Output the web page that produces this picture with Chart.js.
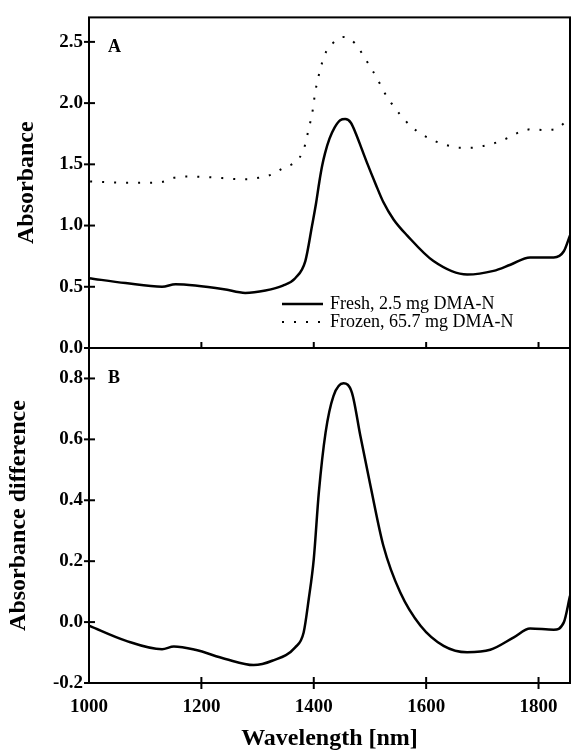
<!DOCTYPE html>
<html>
<head>
<meta charset="utf-8">
<script src="https://cdn.jsdelivr.net/npm/chart.js@4.4.1/dist/chart.umd.min.js"></script>
<style>
html, body { margin: 0; padding: 0; background: #fff; }
#wrap { position: relative; width: 571px; height: 751px; }
#chartA { position: absolute; left: 0; top: 0; }
#chartB { position: absolute; left: 0; top: 330px; }
</style>
</head>
<body>
<div id="wrap">
  <canvas id="chartA" width="571" height="366"></canvas>
  <canvas id="chartB" width="571" height="421"></canvas>
</div>
<script>
// 파장 (nm) / 흡광도 값 - 그림에서 읽음
const freshNm  = [1000, 1065, 1130, 1154, 1189, 1240, 1278, 1314, 1345, 1367, 1385, 1397, 1404, 1410, 1415, 1420, 1428, 1437, 1447, 1456, 1466, 1475, 1485, 1495, 1510, 1524, 1542, 1566, 1613, 1673, 1720, 1750, 1785, 1827, 1845, 1856];
const freshAbs = [0.57, 0.53, 0.50, 0.52, 0.51, 0.48, 0.45, 0.47, 0.51, 0.57, 0.71, 1.00, 1.18, 1.36, 1.49, 1.59, 1.71, 1.80, 1.86, 1.87, 1.84, 1.75, 1.63, 1.51, 1.34, 1.19, 1.05, 0.92, 0.71, 0.60, 0.63, 0.68, 0.74, 0.74, 0.79, 0.92];

const frozenNm  = [1002, 1064, 1107, 1129, 1151, 1172, 1216, 1259, 1281, 1302, 1324, 1346, 1367, 1382, 1392, 1397, 1403, 1413, 1419, 1434, 1454, 1473, 1488, 1500, 1513, 1524, 1538, 1553, 1573, 1594, 1616, 1637, 1659, 1680, 1702, 1723, 1745, 1766, 1788, 1809, 1830, 1851, 1856];
const frozenAbs = [1.36, 1.35, 1.35, 1.355, 1.39, 1.40, 1.395, 1.38, 1.378, 1.39, 1.415, 1.47, 1.52, 1.62, 1.81, 1.91, 2.10, 2.30, 2.39, 2.49, 2.54, 2.49, 2.39, 2.30, 2.20, 2.10, 2.00, 1.91, 1.81, 1.74, 1.69, 1.656, 1.635, 1.635, 1.65, 1.675, 1.715, 1.763, 1.787, 1.78, 1.787, 1.86, 1.88];

const diffNm  = [1000, 1065, 1130, 1151, 1189, 1243, 1293, 1326, 1367, 1382, 1391, 1400, 1409, 1421, 1435, 1453, 1468, 1483, 1501, 1524, 1554, 1590, 1631, 1673, 1714, 1756, 1785, 1827, 1845, 1856];
const diffAbs = [-0.012, -0.061, -0.089, -0.080, -0.091, -0.121, -0.141, -0.127, -0.083, -0.034, 0.075, 0.207, 0.425, 0.622, 0.742, 0.784, 0.753, 0.611, 0.447, 0.25, 0.097, -0.012, -0.078, -0.099, -0.091, -0.050, -0.021, -0.025, -0.001, 0.086];

const labelFresh  = 'Fresh, 2.5 mg DMA-N';
const labelFrozen = 'Frozen, 65.7 mg DMA-N';

const serif = "'Liberation Serif', 'Times New Roman', serif";
const tickFont  = { family: serif, size: 19, weight: 'bold' };
const titleFont = { family: serif, size: 24, weight: 'bold' };

function toPoints(xs, ys) {
    return xs.map((x, i) => ({ x: x, y: ys[i] }));
}

// 테두리 + 축을 가로지르는 눈금
const framePlugin = {
    id: 'frame',
    afterDraw(chart, args, opts) {
        const ctx = chart.ctx;
        const a = chart.chartArea;
        ctx.save();
        ctx.strokeStyle = '#000';
        ctx.lineWidth = 2;
        ctx.strokeRect(a.left, a.top, a.right - a.left, a.bottom - a.top);

        const ys = chart.scales.y;
        ys.ticks.forEach(t => {
            const py = ys.getPixelForValue(t.value);
            ctx.beginPath();
            ctx.moveTo(a.left - 5, py);
            ctx.lineTo(a.left + 6, py);
            ctx.stroke();
        });

        const xs = chart.scales.x;
        xs.ticks.forEach(t => {
            if (t.value <= xs.min) return;
            const px = xs.getPixelForValue(t.value);
            ctx.beginPath();
            if (opts.crossX) {
                ctx.moveTo(px, a.bottom - 6);
                ctx.lineTo(px, a.bottom + 6);
            } else {
                ctx.moveTo(px, a.bottom);
                ctx.lineTo(px, a.bottom - 6);
            }
            ctx.stroke();
        });

        // 패널 문자
        ctx.fillStyle = '#000';
        ctx.font = 'bold 18px ' + serif;
        ctx.textAlign = 'left';
        ctx.textBaseline = 'middle';
        ctx.fillText(opts.letter, a.left + 19, a.top + opts.letterDy);
        ctx.restore();
    }
};

// 패널 A 안쪽 범례
const legendPlugin = {
    id: 'innerLegend',
    afterDraw(chart, args, opts) {
        if (!opts.show) return;
        const ctx = chart.ctx;
        const a = chart.chartArea;
        ctx.save();
        chart.data.datasets.forEach((ds, i) => {
            const y = a.bottom - 44 + i * 18;
            const x0 = a.right - 288;
            ctx.strokeStyle = '#000';
            ctx.lineWidth = ds.borderWidth;
            ctx.setLineDash(ds.borderDash || []);
            ctx.beginPath();
            ctx.moveTo(x0, y);
            ctx.lineTo(x0 + 41, y);
            ctx.stroke();
            ctx.setLineDash([]);
            ctx.fillStyle = '#000';
            ctx.font = '18px ' + serif;
            ctx.textAlign = 'left';
            ctx.textBaseline = 'middle';
            ctx.fillText(ds.label, x0 + 48, y);
        });
        ctx.restore();
    }
};

function yScale(min, max, step, title, titlePad) {
    return {
        type: 'linear',
        min: min,
        max: max,
        ticks: {
            stepSize: step,
            includeBounds: false,
            callback: v => v.toFixed(1),
            padding: 6,
            color: '#000',
            font: tickFont
        },
        grid: { display: false, drawTicks: false },
        border: { display: false },
        title: { display: true, text: title, color: '#000', font: titleFont, padding: { top: titlePad, bottom: 0 } },
        afterFit(s) { s.width = 89; }
    };
}

const chartA = new Chart(document.getElementById('chartA'), {
    type: 'line',
    data: {
        datasets: [{
            label: labelFresh,
            data: toPoints(freshNm, freshAbs),
            borderColor: '#000',
            borderWidth: 2.5,
            cubicInterpolationMode: 'monotone'
        }, {
            label: labelFrozen,
            data: toPoints(frozenNm, frozenAbs),
            borderColor: '#000',
            borderWidth: 2,
            borderDash: [2, 10],
            cubicInterpolationMode: 'monotone'
        }]
    },
    options: {
        responsive: false,
        animation: false,
        layout: { padding: { left: 0, right: 1, top: 13, bottom: 18 } },
        elements: { point: { radius: 0 } },
        plugins: {
            legend: { display: false },
            tooltip: { enabled: false },
            frame: { letter: 'A', letterDy: 30, crossX: false },
            innerLegend: { show: true }
        },
        scales: {
            x: { type: 'linear', min: 1000, max: 1856, display: false, ticks: { stepSize: 200, includeBounds: false } },
            y: yScale(0, 2.7, 0.5, 'Absorbance', 12)
        }
    },
    plugins: [framePlugin, legendPlugin]
});

const chartB = new Chart(document.getElementById('chartB'), {
    type: 'line',
    data: {
        datasets: [{
            label: 'Difference',
            data: toPoints(diffNm, diffAbs),
            borderColor: '#000',
            borderWidth: 2.5,
            cubicInterpolationMode: 'monotone'
        }]
    },
    options: {
        responsive: false,
        animation: false,
        layout: { padding: { left: 0, right: 1, top: 18, bottom: 0 } },
        elements: { point: { radius: 0 } },
        plugins: {
            legend: { display: false },
            tooltip: { enabled: false },
            frame: { letter: 'B', letterDy: 30, crossX: true },
            innerLegend: { show: false }
        },
        scales: {
            x: {
                type: 'linear',
                min: 1000,
                max: 1856,
                ticks: {
                    stepSize: 200,
                    includeBounds: false,
                    callback: v => String(v),
                    padding: 13,
                    maxRotation: 0,
                    color: '#000',
                    font: tickFont
                },
                grid: { display: false, drawTicks: false },
                border: { display: false },
                title: { display: true, text: 'Wavelength [nm]', color: '#000', font: titleFont, padding: { top: 0, bottom: -2 } },
                afterFit(s) { s.height = 68; }
            },
            y: yScale(-0.2, 0.9, 0.2, 'Absorbance difference', 4)
        }
    },
    plugins: [framePlugin, legendPlugin]
});
</script>
</body>
</html>
